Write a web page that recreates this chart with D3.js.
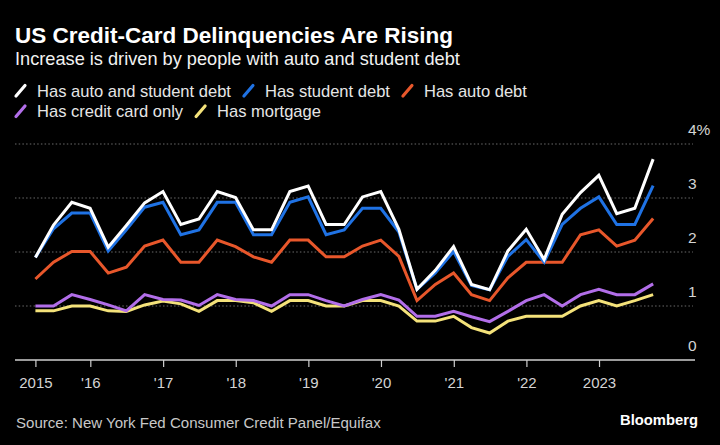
<!DOCTYPE html>
<html>
<head>
<meta charset="utf-8">
<script src="https://cdn.jsdelivr.net/npm/d3@7"></script>
<style>
  html, body { margin: 0; padding: 0; background: #000; }
  svg { display: block; }
  text { font-family: "Liberation Sans", Arial, sans-serif; }
</style>
</head>
<body>
<svg id="chart" width="720" height="445"></svg>
<script>
// ---------------- DATA ----------------
const titleText = "US Credit-Card Delinquencies Are Rising";
const subtitleText = "Increase is driven by people with auto and student debt";
const sourceText = "Source: New York Fed Consumer Credit Panel/Equifax";
const brandText = "Bloomberg";

// Quarterly, 2015 Q1 .. 2023 Q3 (plotted at quarter ends)
const quarters = d3.range(35).map(i => new Date(2015, 3 * i + 3, 0));

const seriesNames = ["Has auto and student debt", "Has student debt", "Has auto debt", "Has credit card only", "Has mortgage"];
const seriesColors = ["#ffffff", "#1f72e4", "#e8572b", "#b26ee9", "#f4e27a"];

const autoAndStudent = [1.90, 2.50, 2.92, 2.81, 2.09, 2.49, 2.91, 3.12, 2.51, 2.61, 3.12, 3.01,
  2.41, 2.41, 3.12, 3.22, 2.51, 2.51, 3.02, 3.12, 2.42, 1.31, 1.66, 2.10,
  1.40, 1.30, 2.02, 2.42, 1.86, 2.70, 3.10, 3.42, 2.71, 2.81, 3.72];
const studentOnly = [1.90, 2.43, 2.72, 2.72, 2.02, 2.41, 2.83, 2.92, 2.32, 2.41, 2.92, 2.92,
  2.32, 2.32, 2.92, 3.02, 2.32, 2.41, 2.81, 2.81, 2.37, 1.31, 1.61, 2.01,
  1.38, 1.30, 1.92, 2.23, 1.81, 2.51, 2.81, 3.02, 2.51, 2.51, 3.23];
const autoOnly = [1.50, 1.81, 2.01, 2.01, 1.61, 1.72, 2.11, 2.22, 1.81, 1.81, 2.22, 2.10,
  1.91, 1.81, 2.22, 2.22, 1.91, 1.91, 2.11, 2.22, 1.92, 1.10, 1.40, 1.61,
  1.21, 1.10, 1.52, 1.81, 1.81, 1.81, 2.32, 2.41, 2.11, 2.22, 2.62];
const creditCardOnly = [1.00, 1.00, 1.21, 1.12, 1.02, 0.91, 1.21, 1.12, 1.11, 1.01, 1.21, 1.12,
  1.10, 1.00, 1.21, 1.21, 1.10, 1.00, 1.12, 1.21, 1.11, 0.81, 0.81, 0.90,
  0.80, 0.71, 0.90, 1.10, 1.21, 1.00, 1.21, 1.31, 1.21, 1.21, 1.41];
const mortgage = [0.91, 0.91, 1.00, 1.00, 0.91, 0.90, 1.02, 1.09, 1.04, 0.90, 1.10, 1.10,
  1.06, 0.90, 1.10, 1.10, 1.00, 1.00, 1.10, 1.10, 1.00, 0.72, 0.72, 0.81,
  0.60, 0.50, 0.72, 0.81, 0.81, 0.81, 1.00, 1.10, 1.00, 1.10, 1.21];

const seriesValues = [autoAndStudent, studentOnly, autoOnly, creditCardOnly, mortgage];

const xTickDates = [new Date(2015, 2, 31), new Date(2016, 0, 1), new Date(2017, 0, 1), new Date(2018, 0, 1),
  new Date(2019, 0, 1), new Date(2020, 0, 1), new Date(2021, 0, 1), new Date(2022, 0, 1), new Date(2023, 0, 1)];
const xTickLabels = ["2015", "'16", "'17", "'18", "'19", "'20", "'21", "'22", "2023"];
const yTickValues = [0, 1, 2, 3, 4];
const yTickLabels = ["0", "1", "2", "3", "4%"];

// ---------------- LAYOUT ----------------
const svg = d3.select("#chart");
const W = 720, H = 445;
svg.append("rect").attr("width", W).attr("height", H).attr("fill", "#000");

const x = d3.scaleTime()
  .domain([new Date(2015, 0, 1), new Date(2024, 0, 1)])
  .range([17.7, 17.7 + 9 * 72.66]);
const y = d3.scaleLinear().domain([0, 4]).range([360, 144]);

function fit(sel, target) {
  const w = sel.node().getComputedTextLength();
  const fs = parseFloat(sel.attr("font-size"));
  sel.attr("font-size", (fs * target / w).toFixed(2));
  return sel;
}

// Title & subtitle
fit(svg.append("text").attr("x", 15).attr("y", 42.5).attr("fill", "#fff")
  .attr("font-size", 18).attr("font-weight", "bold").text(titleText), 438);
fit(svg.append("text").attr("x", 15).attr("y", 65).attr("fill", "#f2f2f2")
  .attr("font-size", 17).text(subtitleText), 445);

// Legend
const legendRows = [[0, 1, 2], [3, 4]];
const legendBaselines = [96.5, 117];
let legendFont = 16;
{
  const probe = svg.append("text").attr("font-size", 16).text(seriesNames[0]);
  legendFont = 16 * 194 / probe.node().getComputedTextLength();
  probe.remove();
}
legendRows.forEach((row, r) => {
  let cx = 15;
  const by = legendBaselines[r];
  row.forEach(si => {
    svg.append("line")
      .attr("x1", cx + 1).attr("y1", by - 0.5)
      .attr("x2", cx + 10).attr("y2", by - 11)
      .attr("stroke", seriesColors[si]).attr("stroke-width", 3.2)
      .attr("stroke-linecap", "round");
    const t = svg.append("text").attr("x", cx + 22).attr("y", by)
      .attr("fill", "#e6e6e6").attr("font-size", legendFont.toFixed(2))
      .text(seriesNames[si]);
    cx = cx + 22 + t.node().getComputedTextLength() + 12;
  });
});

// Gridlines
svg.append("g").selectAll("line")
  .data(yTickValues.filter(v => v > 0))
  .join("line")
  .attr("x1", 15).attr("x2", 693)
  .attr("y1", d => y(d)).attr("y2", d => y(d))
  .attr("stroke", "#6a6a6a").attr("stroke-width", 1)
  .attr("stroke-dasharray", "1.5,2.2");

// Y labels
svg.append("g").selectAll("text")
  .data(yTickValues)
  .join("text")
  .attr("x", 688).attr("y", d => y(d) - 9)
  .attr("fill", "#d4d4d4").attr("font-size", 15.5)
  .text((d, i) => yTickLabels[i]);

// Lines
const line = d3.line()
  .x((d, i) => x(quarters[i]))
  .y(d => y(d))
  .curve(d3.curveLinear);

const order = [4, 3, 2, 1, 0];
svg.append("g").selectAll("path")
  .data(order)
  .join("path")
  .attr("d", si => line(seriesValues[si]))
  .attr("fill", "none")
  .attr("stroke", si => seriesColors[si])
  .attr("stroke-width", 3)
  .attr("stroke-linejoin", "miter")
  .attr("stroke-linecap", "butt");

// X axis
svg.append("line").attr("x1", 15).attr("x2", 695).attr("y1", 360).attr("y2", 360)
  .attr("stroke", "#cfcfcf").attr("stroke-width", 1.5);

const xAxis = d3.axisBottom(x)
  .tickValues(xTickDates)
  .tickFormat((d, i) => xTickLabels[i])
  .tickSize(7)
  .tickPadding(6);
const gx = svg.append("g").attr("transform", "translate(0,360)").call(xAxis);
gx.select(".domain").remove();
gx.selectAll(".tick line").attr("stroke", "#cfcfcf").attr("stroke-width", 1.2);
gx.selectAll(".tick text")
  .attr("fill", "#d4d4d4")
  .attr("font-size", 15)
  .attr("font-family", "'Liberation Sans', Arial, sans-serif")
  .attr("dy", null).attr("y", 27.7);

// Footer
fit(svg.append("text").attr("x", 16).attr("y", 427.5).attr("fill", "#c8c8c8")
  .attr("font-size", 15).text(sourceText), 365);
const brand = svg.append("text").attr("x", 698).attr("y", 425)
  .attr("fill", "#fff").attr("font-size", 15).attr("font-weight", "bold")
  .attr("text-anchor", "end").text(brandText);
fit(brand, 78);
</script>
</body>
</html>
